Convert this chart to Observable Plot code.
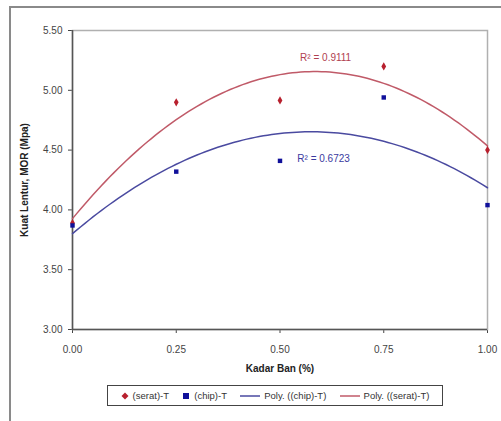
<!DOCTYPE html>
<html>
<head>
<meta charset="utf-8">
<script src="https://cdn.jsdelivr.net/npm/d3@7"></script>
<script src="https://cdn.jsdelivr.net/npm/@observablehq/plot@0.6"></script>
<style>
  body { margin: 0; background: #fff; font-family: "Liberation Sans", Arial, sans-serif; }
  #wrap { position: relative; width: 501px; height: 421px; overflow: hidden; }
  #frame { position: absolute; left: 9px; top: 6px; width: 600px; height: 600px; border-left: 2px solid #8a8a8a; border-top: 2px solid #8a8a8a; }
  #chart { position: absolute; left: 0; top: 0; }
  #legend { position: absolute; left: 107px; top: 385px; width: 336px; height: 21px; border: 1px solid #444; box-sizing: border-box; font-size: 9.5px; color: #333; display: flex; align-items: center; justify-content: space-around; padding: 0 6px; }
  #legend span.item { display: inline-flex; align-items: center; gap: 4px; white-space: nowrap; }
</style>
</head>
<body>
<div id="wrap">
  <div id="frame"></div>
  <div id="chart"></div>
  <div id="legend"></div>
</div>
<script>
const kadar = [0, 0.25, 0.5, 0.75, 1.0];
const serat = [3.89, 4.90, 4.915, 5.20, 4.50];
const chip = [3.87, 4.32, 4.41, 4.94, 4.04];
const seriesNames = ["(serat)-T", "(chip)-T", "Poly. ((chip)-T)", "Poly. ((serat)-T)"];
const r2Labels = ["R\u00B2 = 0.9111", "R\u00B2 = 0.6723"];
const r2X = [0.61, 0.605];
const r2Y = [5.27, 4.43];
const yTicks = [3.0, 3.5, 4.0, 4.5, 5.0, 5.5];
const xTicks = [0, 0.25, 0.5, 0.75, 1.0];

const RED = "#b8202e", BLUE = "#10109a", RED_LINE = "#c05a68", BLUE_LINE = "#4a4aa0";

// Quadratic least-squares trendline (as Excel's Poly. order 2)
function quadFit(xs, ys) {
  const n = xs.length;
  let s = [0,0,0,0,0], t = [0,0,0];
  for (let i = 0; i < n; i++) {
    const x = xs[i], y = ys[i];
    for (let k = 0; k < 5; k++) s[k] += Math.pow(x, k);
    for (let k = 0; k < 3; k++) t[k] += Math.pow(x, k) * y;
  }
  const A = [[s[0], s[1], s[2], t[0]], [s[1], s[2], s[3], t[1]], [s[2], s[3], s[4], t[2]]];
  for (let i = 0; i < 3; i++) {
    for (let j = i + 1; j < 3; j++) {
      const f = A[j][i] / A[i][i];
      for (let k = i; k < 4; k++) A[j][k] -= f * A[i][k];
    }
  }
  const c = [0,0,0];
  for (let i = 2; i >= 0; i--) {
    let v = A[i][3];
    for (let k = i + 1; k < 3; k++) v -= A[i][k] * c[k];
    c[i] = v / A[i][i];
  }
  return x => c[0] + c[1] * x + c[2] * x * x;
}
const fSerat = quadFit(kadar, serat);
const fChip = quadFit(kadar, chip);
const xs = d3.range(0, 1.0001, 0.01);
const curveSerat = xs.map(x => ({x, y: fSerat(x)}));
const curveChip = xs.map(x => ({x, y: fChip(x)}));

const pts = kadar.map((x, i) => ({x, serat: serat[i], chip: chip[i]}));
const r2 = r2Labels.map((t, i) => ({t, x: r2X[i], y: r2Y[i], c: i === 0 ? "#b04050" : "#3a3aa0"}));

const chart = Plot.plot({
  width: 501,
  height: 380,
  marginLeft: 72,
  marginRight: 14,
  marginTop: 30,
  marginBottom: 51,
  style: { fontFamily: "Liberation Sans, Arial, sans-serif", fontSize: "10px", color: "#444", background: "transparent" },
  x: { domain: [0, 1], ticks: xTicks, tickFormat: d3.format(".2f"), label: "Kadar Ban (%)", labelAnchor: "center", labelArrow: "none", labelOffset: 42, tickSize: 4, tickPadding: 12 },
  y: { domain: [3, 5.5], ticks: yTicks, tickFormat: d3.format(".2f"), label: "Kuat Lentur, MOR (Mpa)", labelAnchor: "center", labelArrow: "none", labelOffset: 52, tickSize: 4, tickPadding: 6 },
  marks: [
    Plot.frame({ stroke: "#b0b0b0", strokeWidth: 1.5 }),
    Plot.ruleX([0], { stroke: "#555", strokeWidth: 1.5 }),
    Plot.ruleY([3], { stroke: "#555", strokeWidth: 1.5 }),
    Plot.line(curveSerat, { x: "x", y: "y", stroke: RED_LINE, strokeWidth: 1.5 }),
    Plot.line(curveChip, { x: "x", y: "y", stroke: BLUE_LINE, strokeWidth: 1.5 }),
    Plot.dot(pts, { x: "x", y: "serat", symbol: "diamond", r: 2.5, fill: RED }),
    Plot.dot(pts, { x: "x", y: "chip", symbol: "square", r: 2.5, fill: BLUE }),
    Plot.text(r2, { x: "x", y: "y", text: "t", fill: "c", fontSize: 10 })
  ]
});
// Bold axis titles
chart.querySelectorAll("[aria-label='x-axis label'] text, [aria-label='y-axis label'] text").forEach(t => {
  t.setAttribute("font-weight", "bold");
  t.setAttribute("fill", "#222");
});
document.getElementById("chart").appendChild(chart);

// Legend
const legend = document.getElementById("legend");
const swatches = [
  `<svg width="8" height="8"><path d="M4 0.5 L7.5 4 L4 7.5 L0.5 4 Z" fill="${RED}"/></svg>`,
  `<svg width="8" height="8"><rect x="1" y="1" width="6" height="6" fill="${BLUE}"/></svg>`,
  `<svg width="20" height="6"><line x1="0" y1="3" x2="20" y2="3" stroke="${BLUE_LINE}" stroke-width="1.5"/></svg>`,
  `<svg width="20" height="6"><line x1="0" y1="3" x2="20" y2="3" stroke="${RED_LINE}" stroke-width="1.5"/></svg>`
];
seriesNames.forEach((name, i) => {
  const s = document.createElement("span");
  s.className = "item";
  s.innerHTML = swatches[i] + `<span>${name}</span>`;
  legend.appendChild(s);
});
</script>
</body>
</html>
